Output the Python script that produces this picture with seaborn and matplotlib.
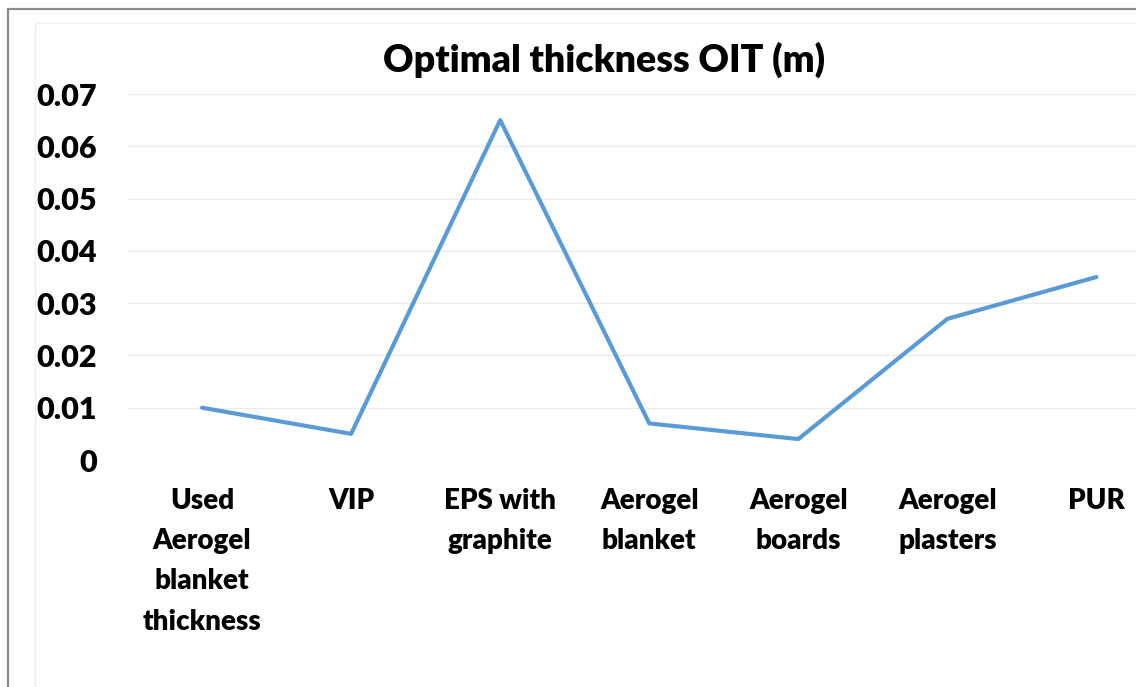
import pandas as pd
import seaborn as sns
import matplotlib.pyplot as plt
from matplotlib.lines import Line2D

# データ
categories = ["Used\nAerogel\nblanket\nthickness", "VIP", "EPS with\ngraphite",
              "Aerogel\nblanket", "Aerogel\nboards", "Aerogel\nplasters", "PUR"]
oit_values = [0.010, 0.005, 0.065, 0.007, 0.004, 0.027, 0.035]
y_ticks = [0, 0.01, 0.02, 0.03, 0.04, 0.05, 0.06, 0.07]
y_labels = ["0", "0.01", "0.02", "0.03", "0.04", "0.05", "0.06", "0.07"]

sns.set_style("white")
plt.rcParams['font.family'] = ['Lato', 'DejaVu Sans']
plt.rcParams['font.weight'] = 'bold'
plt.rcParams['text.color'] = 'black'
plt.rcParams['xtick.color'] = 'black'
plt.rcParams['ytick.color'] = 'black'

W, H = 1136, 687
fig = plt.figure(figsize=(W / 100, H / 100), dpi=100)

# 枠線
fig.add_artist(Line2D([8 / W, 8 / W], [0, 1 - 9 / H], color="#8c8c8c", lw=1.6))
fig.add_artist(Line2D([8 / W, 1], [1 - 9 / H, 1 - 9 / H], color="#8c8c8c", lw=1.6))
fig.add_artist(Line2D([35 / W, 35 / W], [0, 1 - 23 / H], color="#efefef", lw=1.0))
fig.add_artist(Line2D([35 / W, 1], [1 - 23 / H, 1 - 23 / H], color="#efefef", lw=1.0))

left, right = 127.5, 1171
top, bottom = 94, 460
ax = fig.add_axes([left / W, 1 - bottom / H, (right - left) / W, (bottom - top) / H])

df = pd.DataFrame({"pos": range(len(categories)), "OIT": oit_values})
sns.lineplot(data=df, x="pos", y="OIT", ax=ax, color="#5b9bd5", linewidth=3.0, sort=False)

ax.set_xlim(-0.5, len(categories) - 0.5)
ax.set_ylim(0, 0.07)
ax.set_yticks(y_ticks)
ax.set_yticklabels(y_labels, fontsize=22, fontweight="heavy")
ax.set_xticks(range(len(categories)))
ax.set_xticklabels(categories, fontsize=20, fontweight="heavy", linespacing=1.68)
ax.tick_params(axis="y", length=0, pad=22)
ax.tick_params(axis="x", length=0, pad=20)
ax.grid(axis="y", color="#ececec", linewidth=1.0)
ax.grid(axis="x", visible=False)
for s in ax.spines.values():
    s.set_visible(False)
ax.set_xlabel("")
ax.set_ylabel("")

fig.text(604 / W, 1 - 60 / H, "Optimal thickness OIT (m)", ha="center", va="center",
         fontsize=27, fontweight="heavy")

fig.savefig("out.png", dpi=100)
plt.close(fig)
